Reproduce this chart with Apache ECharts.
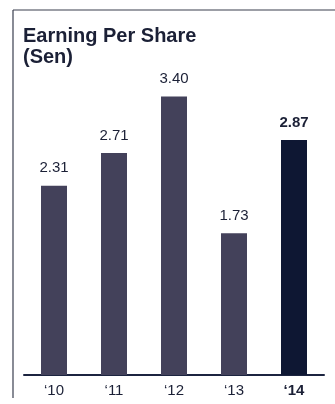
<!DOCTYPE html>
<html><head><meta charset="utf-8">
<style>html,body{margin:0;padding:0;background:#fff}#c{width:335px;height:404px}</style>
<script src="https://cdn.jsdelivr.net/npm/echarts@6/dist/echarts.min.js"></script>
</head><body><div id="c"></div>
<script>
const categories = ['‘10', '‘11', '‘12', '‘13', '‘14'];
const eps = [2.31, 2.71, 3.40, 1.73, 2.87];
const highlightIndex = 4;

const chart = echarts.init(document.getElementById('c'), null, {renderer: 'canvas'});
const font = 'Liberation Sans, Arial, Helvetica, sans-serif';
const data = eps.map((v, i) => ({
  value: v,
  itemStyle: {color: i === highlightIndex ? '#0e1733' : '#43415a'},
  label: {fontWeight: i === highlightIndex ? 'bold' : 'normal'}
}));
chart.setOption({
  animation: false,
  title: {
    text: 'Earning Per Share\n(Sen)',
    left: 18, top: 21,
    textStyle: {fontFamily: font, fontSize: 20, fontWeight: 'bold', color: '#1b2036', lineHeight: 21}
  },
  graphic: [
    {type: 'line', shape: {x1: 13, y1: 10, x2: 13, y2: 398}, style: {stroke: '#3a3f4f', lineWidth: 1.2}},
    {type: 'line', shape: {x1: 13, y1: 10, x2: 335, y2: 10}, style: {stroke: '#3a3f4f', lineWidth: 1.2}}
  ],
  grid: {left: 24, right: 11, top: 47.4, bottom: 29},
  xAxis: {
    type: 'category', data: categories,
    axisLine: {lineStyle: {color: '#1c2440', width: 2}},
    axisTick: {show: false},
    axisLabel: {
      fontFamily: font, fontSize: 15, color: '#1b2036', margin: 8,
      formatter: (v, i) => i === highlightIndex ? '{b|' + v + '}' : v,
      rich: {b: {fontFamily: font, fontSize: 15, fontWeight: 'bold', color: '#1b2036'}}
    }
  },
  yAxis: {type: 'value', min: 0, max: 4, show: false, splitLine: {show: false}},
  series: [{
    type: 'bar', data: data, barWidth: 26,
    label: {
      show: true, position: 'top', distance: 10,
      fontFamily: font, fontSize: 15, color: '#1b2036',
      formatter: p => p.value.toFixed(2)
    }
  }]
});
</script></body></html>
